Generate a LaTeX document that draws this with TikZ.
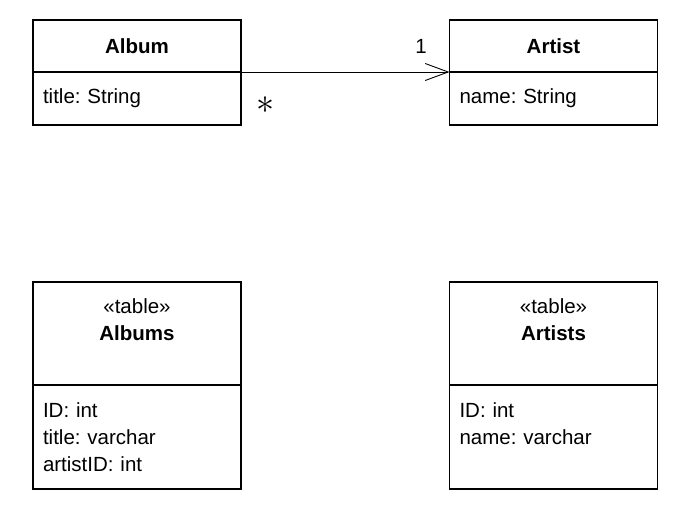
\documentclass[tikz,border=0pt]{standalone}
\usepackage{fontspec}
\setmainfont{Liberation Sans}
\usetikzlibrary{positioning,arrows.meta}
\tikzset{
	classhead/.style={draw, line width=1.2pt, outer sep=0pt, minimum width=208pt, inner sep=0pt, align=center, font=\fontsize{20.5}{27}\selectfont},
	classbody/.style={draw, line width=1.2pt, outer sep=0pt, minimum width=208pt, text width=188pt, inner sep=0pt, inner xsep=10pt, align=left, font=\fontsize{20.5}{27}\selectfont},
}
\frenchspacing
\begin{document}
\begin{tikzpicture}[x=1pt,y=-1pt]
				\useasboundingbox (0,0) rectangle (685,509);
				\def\headh{52pt}
				\def\bodyh{53pt}
				% domain classes
				\node[classhead, minimum height=\headh] (albumhead) at (137,46) {\bfseries Album};
				\node[classbody, minimum height=\bodyh, below=0pt of albumhead] (albumbody) {title: String};
				\node[classhead, minimum height=\headh] (artisthead) at (553.5,46) {\bfseries Artist};
				\node[classbody, minimum height=\bodyh, below=0pt of artisthead] (artistbody) {name: String};
				
				% tables
				\node[classhead, minimum height=103pt] (albumshead) at (137,333.5) {«table»\\\textbf{Albums}\\\mbox{}};
				\node[classbody, minimum height=104pt, below=0pt of albumshead] (albumsbody) {ID: int\\title: varchar\\artistID: int};
				\node[classhead, minimum height=103pt] (artistshead) at (553.5,333.5) {«table»\\\textbf{Artists}\\\mbox{}};
				\node[classbody, minimum height=104pt, below=0pt of artistshead] (artistsbody) {ID: int\\name: varchar\\\mbox{}};
				
				% association
				\draw[line width=0.9pt, -{Straight Barb[length=23pt,width=17pt,line width=0.9pt]}] (albumhead.south east) -- (artisthead.south west);
				\node[font=\fontsize{20.5}{24}\selectfont] (onemult) at (421,46) {1};
				\node[scale=3.6] (manymult) at (265,105) {$\ast$};
			\end{tikzpicture}
\end{document}
